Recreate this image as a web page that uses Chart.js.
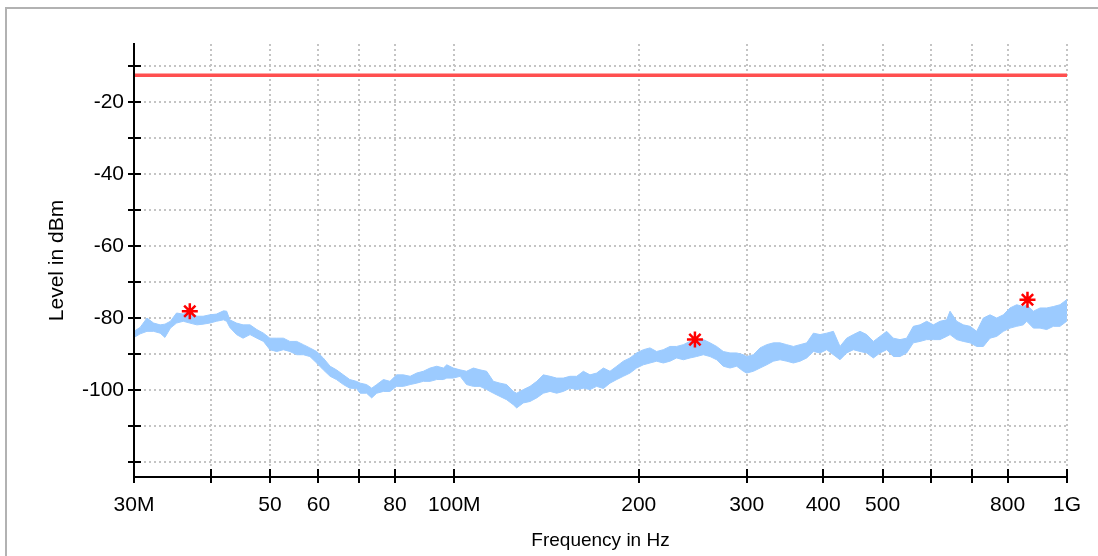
<!DOCTYPE html>
<html>
<head>
<meta charset="utf-8">
<title>Level vs frequency</title>
<script src="https://cdn.jsdelivr.net/npm/chart.js@4.4.1/dist/chart.umd.min.js"></script>
<style>
  html, body { margin: 0; padding: 0; background: #fff; overflow: hidden; }
  #frame { position: absolute; left: 5px; top: 7px; width: 1200px; height: 700px; border: 2px solid #b2b2b2; }
  #chart { position: absolute; left: 0; top: 0; }
</style>
</head>
<body>
<div id="frame"></div>
<canvas id="chart" width="1098" height="556"></canvas>
<script>
// measured trace: upper / lower edge of the noise band (MHz, dBm)
var freqMHz = [
  30.0, 30.7, 31.5, 32.3, 33.1, 33.7, 34.4, 35.2, 36.1, 37.0, 38.0, 38.9, 39.9, 40.9, 42.0, 42.5, 43.0, 44.1,
  45.2, 46.4, 47.6, 48.8, 50.0, 51.3, 52.6, 53.9, 55.3, 56.7, 58.1, 59.6, 61.1, 62.7, 64.2, 65.9, 67.5, 69.2,
  70.2, 71.9, 73.3, 74.7, 76.6, 78.5, 80.5, 82.6, 84.7, 86.8, 89.0, 91.3, 93.6, 96.0, 97.2, 99.6, 102.2, 104.7,
  107.4, 110.1, 112.9, 115.8, 118.7, 121.7, 124.8, 126.4, 129.6, 132.9, 136.3, 139.7, 143.3, 146.9, 150.6, 154.4,
  158.4, 162.4, 166.5, 170.7,
  175.1, 179.5, 184.1, 188.7, 193.5, 198.4, 203.5, 208.6, 213.9, 219.3, 224.9, 230.6, 236.5, 242.5, 248.6, 254.9,
  261.4, 268.0, 274.8, 281.8, 289.0, 296.3, 300.0, 307.7, 315.5, 323.5, 331.7, 340.1, 348.7, 357.6, 366.7, 376.0,
  385.5, 395.3, 405.3,
  415.6, 426.1, 436.9, 448.0, 459.4, 471.0, 483.0, 495.2, 507.8, 520.7, 533.9, 547.4, 561.3, 575.6, 590.2, 605.2,
  620.5, 636.2, 644.3, 660.6, 677.4, 694.6, 712.2, 730.3, 748.8, 767.8, 787.3, 807.2, 827.7, 848.7, 859.4, 881.2,
  903.6, 926.5, 950.0, 974.1, 998.8, 1000
];
var upperDb = [
  -83.7, -82.6, -80.0, -81.4, -81.9, -81.7, -80.9, -78.6, -78.9, -78.1, -79.5, -79.5, -79.1, -78.9, -78.0, -78.1, -80.5, -81.4,
  -81.9, -81.9, -83.2, -84.2, -85.6, -85.6, -85.6, -86.5, -86.5, -87.4, -88.3, -89.3, -91.1, -93.4, -94.4, -95.8, -97.1, -97.6,
  -98.1, -98.5, -99.5, -98.5, -97.1, -97.6, -95.8, -95.8, -96.2, -95.3, -94.8, -93.9, -93.4, -93.9, -93.0, -93.9, -94.4, -94.8,
  -93.9, -94.4, -94.8, -97.6, -98.1, -98.5, -100.4, -100.9, -99.9, -99.0, -97.6, -95.8, -96.2, -96.7, -96.7, -96.2,
  -96.2, -94.8, -95.8, -95.3,
  -93.9, -94.8, -93.4, -92.0, -91.1, -89.7, -88.8, -88.3, -89.3, -88.8, -87.9, -87.9, -87.4, -86.5, -86.5, -86.0,
  -86.9, -87.9, -89.3, -89.7, -89.7, -90.2, -90.7, -90.2, -88.3, -87.4, -86.9, -86.9, -87.4, -87.9, -87.4, -86.9,
  -84.2, -84.6, -84.2,
  -83.7, -87.9, -85.6, -84.6, -83.7, -84.6, -86.5, -85.1, -83.7, -85.6, -86.0, -85.6, -82.3, -81.9, -80.9, -81.9,
  -80.9, -80.5, -78.1, -80.9, -81.9, -82.3, -83.7, -80.0, -79.1, -80.0, -79.1, -77.2, -76.3, -76.8, -76.3, -78.1,
  -77.2, -77.2, -76.8, -76.3, -74.9, -74.9
];
var lowerDb = [
  -85.4, -84.4, -83.7, -83.7, -84.2, -85.4, -82.8, -81.4, -80.9, -81.4, -81.9, -81.7, -81.4, -80.9, -80.5, -80.9, -82.6, -84.6,
  -85.6, -84.6, -85.6, -86.5, -88.8, -89.3, -88.8, -89.3, -90.2, -90.2, -90.7, -92.5, -94.4, -96.2, -97.1, -98.5, -99.5, -99.6,
  -100.9, -100.9, -102.2, -100.9, -100.4, -100.4, -99.0, -99.0, -98.5, -98.1, -97.6, -97.6, -97.1, -97.1, -96.7, -96.7, -96.2, -98.5,
  -99.0, -99.0, -99.9, -100.9, -101.8, -102.7, -104.1, -105.0, -103.6, -103.2, -102.2, -100.9, -100.4, -100.9, -100.4, -99.5,
  -99.9, -99.5, -99.9, -99.0,
  -99.6, -98.1, -97.1, -96.2, -95.3, -93.9, -93.0, -92.5, -92.0, -92.5, -92.0, -91.1, -91.6, -91.1, -90.7, -90.2,
  -90.7, -91.6, -93.4, -93.9, -93.4, -94.8, -95.3, -94.8, -93.9, -93.0, -92.0, -91.6, -92.0, -92.5, -92.0, -91.1,
  -89.3, -89.7, -88.8,
  -90.2, -91.6, -89.7, -88.8, -89.3, -89.7, -91.1, -89.7, -88.8, -90.7, -90.7, -89.7, -86.9, -86.5, -86.0, -86.0,
  -86.0, -85.1, -84.6, -86.0, -86.5, -86.9, -87.9, -87.9, -85.6, -85.1, -83.7, -82.8, -82.3, -81.9, -80.9, -82.8,
  -82.8, -83.2, -82.3, -82.3, -80.9, -79.1
];

// limit line and peak markers
var limitDb = -12.5;
var markerMHz = [37.0, 247.0, 862.0];
var markerDb = [-78.1, -86.0, -74.9];

// axes
var xTickMHz = [30, 40, 50, 60, 70, 80, 100, 200, 300, 400, 500, 600, 700, 800, 1000];
var xTickLabels = ["30M", "", "50", "60", "", "80", "100M", "200", "300", "400", "500", "", "", "800", "1G"];
var yTickDb = [-120, -110, -100, -90, -80, -70, -60, -50, -40, -30, -20, -10];
var yLabelDb = [-100, -80, -60, -40, -20];
var yMin = -124.2, yMax = -3.8;

(function () {
  var FONT = "'Liberation Sans', Arial, Helvetica, sans-serif";
  var BLUE = "#9ccbff";

  function pts(ys) {
    return freqMHz.map(function (f, i) {
      return { x: f * 1e6, y: ys[i] };
    });
  }

  // axis lines with ticks crossing the axis
  var axesPlugin = {
    id: "axes",
    afterDraw: function (chart) {
      var ctx = chart.ctx;
      var a = chart.chartArea;
      var xs = chart.scales.x;
      var ys = chart.scales.y;
      ctx.save();
      ctx.strokeStyle = "#000";
      ctx.lineWidth = 2;
      ctx.beginPath();
      ctx.moveTo(a.left, a.top - 1);
      ctx.lineTo(a.left, a.bottom);
      ctx.lineTo(a.right, a.bottom);
      xs.ticks.forEach(function (t) {
        var px = Math.round(xs.getPixelForValue(t.value));
        ctx.moveTo(px, a.bottom - 8);
        ctx.lineTo(px, a.bottom + 6);
      });
      ys.ticks.forEach(function (t) {
        var py = Math.round(ys.getPixelForValue(t.value));
        ctx.moveTo(a.left - 6, py);
        ctx.lineTo(a.left + 7, py);
      });
      ctx.stroke();
      ctx.restore();
    },
  };

  new Chart(document.getElementById("chart"), {
    type: "line",
    data: {
      datasets: [
        {
          data: pts(upperDb),
          borderColor: BLUE,
          borderWidth: 1,
          pointRadius: 0,
          fill: false,
          order: 3,
        },
        {
          data: pts(lowerDb),
          borderColor: BLUE,
          backgroundColor: BLUE,
          borderWidth: 1,
          pointRadius: 0,
          fill: "-1",
          order: 2,
        },
        {
          data: [
            { x: xTickMHz[0] * 1e6, y: limitDb },
            { x: xTickMHz[xTickMHz.length - 1] * 1e6, y: limitDb },
          ],
          borderColor: "#ff4f4f",
          borderWidth: 3.5,
          pointRadius: 0,
          fill: false,
          order: 1,
        },
        {
          data: markerMHz.map(function (f, i) {
            return { x: f * 1e6, y: markerDb[i] };
          }),
          showLine: false,
          pointStyle: "star",
          pointRadius: 8,
          borderColor: "#ff0000",
          borderWidth: 2.5,
          fill: false,
          order: 0,
        },
      ],
    },
    options: {
      responsive: false,
      devicePixelRatio: 1,
      animation: false,
      layout: { padding: { left: 0, top: 44, right: 31, bottom: 0 } },
      plugins: { legend: { display: false }, tooltip: { enabled: false } },
      scales: {
        x: {
          type: "logarithmic",
          min: 30e6,
          max: 1e9,
          afterBuildTicks: function (s) {
            s.ticks = xTickMHz.map(function (v) {
              return { value: v * 1e6 };
            });
          },
          afterFit: function (s) {
            s.height = 79;
          },
          grid: { color: "#c4c4c4", lineWidth: 2, drawTicks: false },
          border: { display: false, dash: [2, 3] },
          ticks: {
            autoSkip: false,
            maxRotation: 0,
            padding: 16,
            color: "#000",
            font: { family: FONT, size: 21 },
            callback: function (v, i) {
              return xTickLabels[i];
            },
          },
          title: {
            display: true,
            text: "Frequency in Hz",
            color: "#000",
            font: { family: FONT, size: 19 },
            padding: { top: 0, bottom: 4 },
          },
        },
        y: {
          min: yMin,
          max: yMax,
          afterBuildTicks: function (s) {
            s.ticks = yTickDb.map(function (v) {
              return { value: v };
            });
          },
          afterFit: function (s) {
            s.width = 134;
          },
          grid: { color: "#c4c4c4", lineWidth: 2, drawTicks: false },
          border: { display: false, dash: [2, 3] },
          ticks: {
            padding: 10,
            color: "#000",
            font: { family: FONT, size: 21 },
            callback: function (v) {
              return yLabelDb.indexOf(v) >= 0 ? String(v) : "";
            },
          },
          title: {
            display: true,
            text: "Level in dBm",
            color: "#000",
            font: { family: FONT, size: 21 },
            padding: { top: 45, bottom: 0 },
          },
        },
      },
    },
    plugins: [axesPlugin],
  });
})();
</script>
</body>
</html>
